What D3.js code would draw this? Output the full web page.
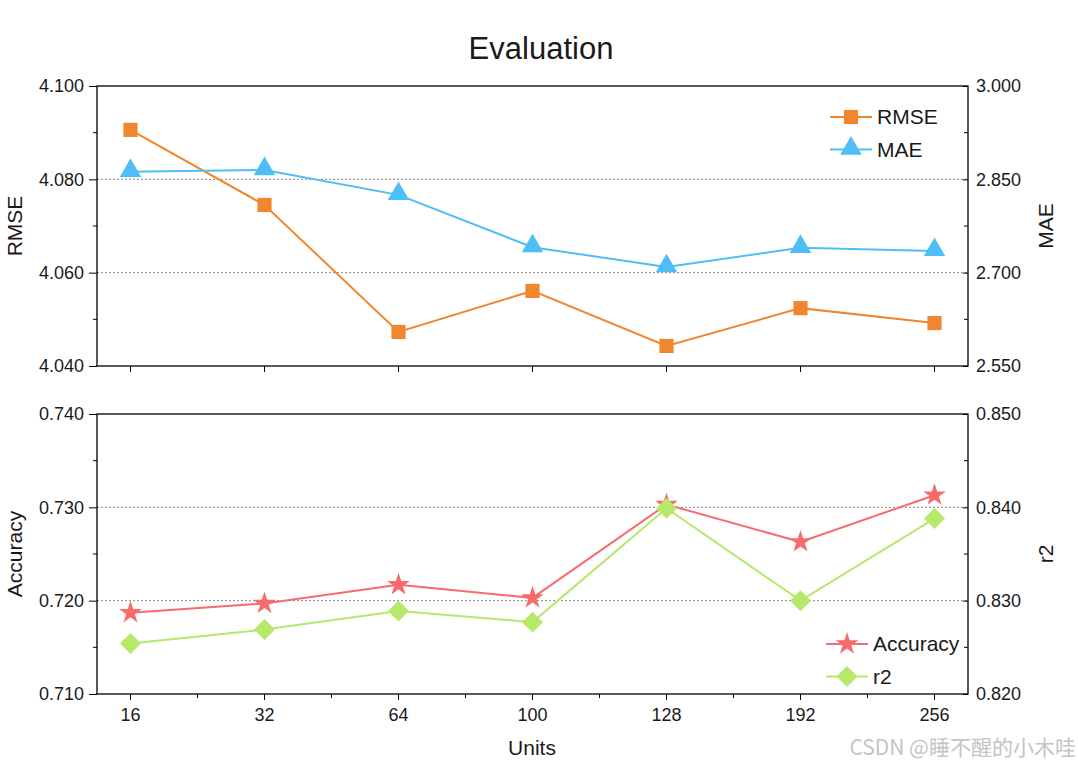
<!DOCTYPE html>
<html>
<head>
<meta charset="utf-8">
<script src="https://cdn.jsdelivr.net/npm/d3@7"></script>
<style>
  body { margin: 0; background: #fff; }
  svg text { font-family: "Liberation Sans", Arial, sans-serif; fill: #1a1a1a; }
</style>
</head>
<body>
<script>
// data
var units = ["16", "32", "64", "100", "128", "192", "256"];
var rmse = [4.0906, 4.0745, 4.0473, 4.0561, 4.0443, 4.0524, 4.0492];
var mae = [2.862, 2.865, 2.825, 2.741, 2.709, 2.740, 2.735];
var accuracy = [0.7187, 0.7197, 0.7217, 0.7203, 0.7303, 0.7263, 0.7313];
var r2 = [0.8254, 0.8269, 0.8289, 0.8277, 0.8399, 0.8300, 0.8388];

var rmseTicks = [4.040, 4.060, 4.080, 4.100];
var maeTicks = [2.550, 2.700, 2.850, 3.000];
var accTicks = [0.710, 0.720, 0.730, 0.740];
var r2Ticks = [0.820, 0.830, 0.840, 0.850];

var W = 1078, H = 766;
var left = 97, right = 968;

var svg = d3.select("body").append("svg").attr("width", W).attr("height", H);

var x = d3.scalePoint().domain(units).range([left, right]).padding(0.25);
var step = x.step();

svg.append("text").attr("x", 541).attr("y", 59).attr("text-anchor", "middle")
    .style("font-size", "31px").text("Evaluation");

function panel(top, bottom, cfg) {
    var yL = d3.scaleLinear().domain(d3.extent(cfg.lTicks)).range([bottom, top]);
    var yR = d3.scaleLinear().domain(d3.extent(cfg.rTicks)).range([bottom, top]);
    var g = svg.append("g");

    // dotted grid at inner majors
    g.selectAll(".grid").data(cfg.lTicks.slice(1, -1)).enter().append("line")
        .attr("x1", left).attr("x2", right)
        .attr("y1", function (d) { return yL(d); }).attr("y2", function (d) { return yL(d); })
        .attr("stroke", "#888").attr("stroke-width", 1).attr("stroke-dasharray", "2,2");

    // left axis
    var la = g.append("g").attr("transform", "translate(" + left + ",0)")
        .call(d3.axisLeft(yL).tickValues(cfg.lTicks).tickFormat(d3.format(".3f")).tickSize(8).tickPadding(5));
    la.select(".domain").remove();
    la.selectAll("text").style("font-size", "18px").attr("fill", "#1a1a1a");
    la.selectAll("line").attr("stroke", "#000");
    var lMinor = d3.pairs(cfg.lTicks).map(function (p) { return (p[0] + p[1]) / 2; });
    g.selectAll(".lminor").data(lMinor).enter().append("line")
        .attr("x1", left - 4).attr("x2", left)
        .attr("y1", function (d) { return yL(d); }).attr("y2", function (d) { return yL(d); })
        .attr("stroke", "#000");

    // right axis, ticks point inward
    var ra = g.append("g").attr("transform", "translate(" + right + ",0)")
        .call(d3.axisRight(yR).tickValues(cfg.rTicks).tickFormat(d3.format(".3f")).tickSize(-5).tickPadding(8));
    ra.select(".domain").remove();
    ra.selectAll("text").style("font-size", "18px").attr("fill", "#1a1a1a");
    ra.selectAll("line").attr("stroke", "#000");
    var rMinor = d3.pairs(cfg.rTicks).map(function (p) { return (p[0] + p[1]) / 2; });
    g.selectAll(".rminor").data(rMinor).enter().append("line")
        .attr("x1", right - 4).attr("x2", right)
        .attr("y1", function (d) { return yR(d); }).attr("y2", function (d) { return yR(d); })
        .attr("stroke", "#000");

    // bottom ticks
    g.selectAll(".xmaj").data(units).enter().append("line")
        .attr("x1", function (d) { return x(d); }).attr("x2", function (d) { return x(d); })
        .attr("y1", bottom).attr("y2", bottom + 6).attr("stroke", "#000");
    if (cfg.minorX) {
        g.selectAll(".xmin").data(units.slice(0, -1)).enter().append("line")
            .attr("x1", function (d) { return x(d) + step / 2; }).attr("x2", function (d) { return x(d) + step / 2; })
            .attr("y1", bottom).attr("y2", bottom + 4).attr("stroke", "#000");
    }

    // frame
    g.append("rect").attr("x", left).attr("y", top).attr("width", right - left).attr("height", bottom - top)
        .attr("fill", "none").attr("stroke", "#000").attr("stroke-width", 1.3);

    // axis titles
    svg.append("text").attr("transform", "translate(22," + (top + bottom) / 2 + ") rotate(-90)")
        .attr("text-anchor", "middle").style("font-size", "21px").text(cfg.lName);
    svg.append("text").attr("transform", "translate(1053," + (top + bottom) / 2 + ") rotate(-90)")
        .attr("text-anchor", "middle").style("font-size", "21px").text(cfg.rName);

    // series
    cfg.series.forEach(function (s) {
        var y = s.axis === "l" ? yL : yR;
        var line = d3.line().x(function (d, i) { return x(units[i]); }).y(function (d) { return y(d); });
        g.append("path").datum(s.values).attr("d", line)
            .attr("fill", "none").attr("stroke", s.color).attr("stroke-width", 2);
        g.selectAll(null).data(s.values).enter().append("path")
            .attr("d", d3.symbol().type(s.symbol).size(s.size))
            .attr("transform", function (d, i) { return "translate(" + x(units[i]) + "," + (y(d) + (s.dy || 0)) + ")"; })
            .attr("fill", s.color);
    });

    // legend
    cfg.series.forEach(function (s, i) {
        var ly = cfg.legY + i * 32.5;
        var lx = cfg.legX;
        g.append("line").attr("x1", lx).attr("x2", lx + 42).attr("y1", ly).attr("y2", ly)
            .attr("stroke", s.color).attr("stroke-width", 2);
        g.append("path").attr("d", d3.symbol().type(s.symbol).size(s.size))
            .attr("transform", "translate(" + (lx + 21) + "," + (ly + (s.dy || 0)) + ")").attr("fill", s.color);
        g.append("text").attr("x", lx + 47).attr("y", ly + 7).style("font-size", "21px").text(s.name);
    });
}

panel(86, 366, {
    lTicks: rmseTicks, rTicks: maeTicks, lName: "RMSE", rName: "MAE", minorX: false,
    legX: 830, legY: 117,
    series: [
        {name: "RMSE", values: rmse, axis: "l", color: "#f0862d", symbol: d3.symbolSquare, size: 200},
        {name: "MAE", values: mae, axis: "r", color: "#4fbdf6", symbol: d3.symbolTriangle, size: 200, dy: -1}
    ]
});

panel(414, 694, {
    lTicks: accTicks, rTicks: r2Ticks, lName: "Accuracy", rName: "r2", minorX: true,
    legX: 826, legY: 644,
    series: [
        {name: "Accuracy", values: accuracy, axis: "l", color: "#f76b6e", symbol: d3.symbolStar, size: 160},
        {name: "r2", values: r2, axis: "r", color: "#b6e86a", symbol: d3.symbolDiamond2, size: 280}
    ]
});

// x tick labels and title under the lower panel
svg.selectAll(".xl").data(units).enter().append("text")
    .attr("x", function (d) { return x(d); }).attr("y", 721).attr("text-anchor", "middle")
    .style("font-size", "18px").text(function (d) { return d; });
svg.append("text").attr("x", 532).attr("y", 755).attr("text-anchor", "middle")
    .style("font-size", "21px").text("Units");

svg.append("text").attr("x", 1076).attr("y", 755).attr("text-anchor", "end")
    .style("font-size", "21px").style("fill", "#c4c4c4")
    .style("font-family", "'Noto Sans CJK SC', 'Liberation Sans', sans-serif")
    .text("CSDN @睡不醒的小木哇");
</script>
</body>
</html>
